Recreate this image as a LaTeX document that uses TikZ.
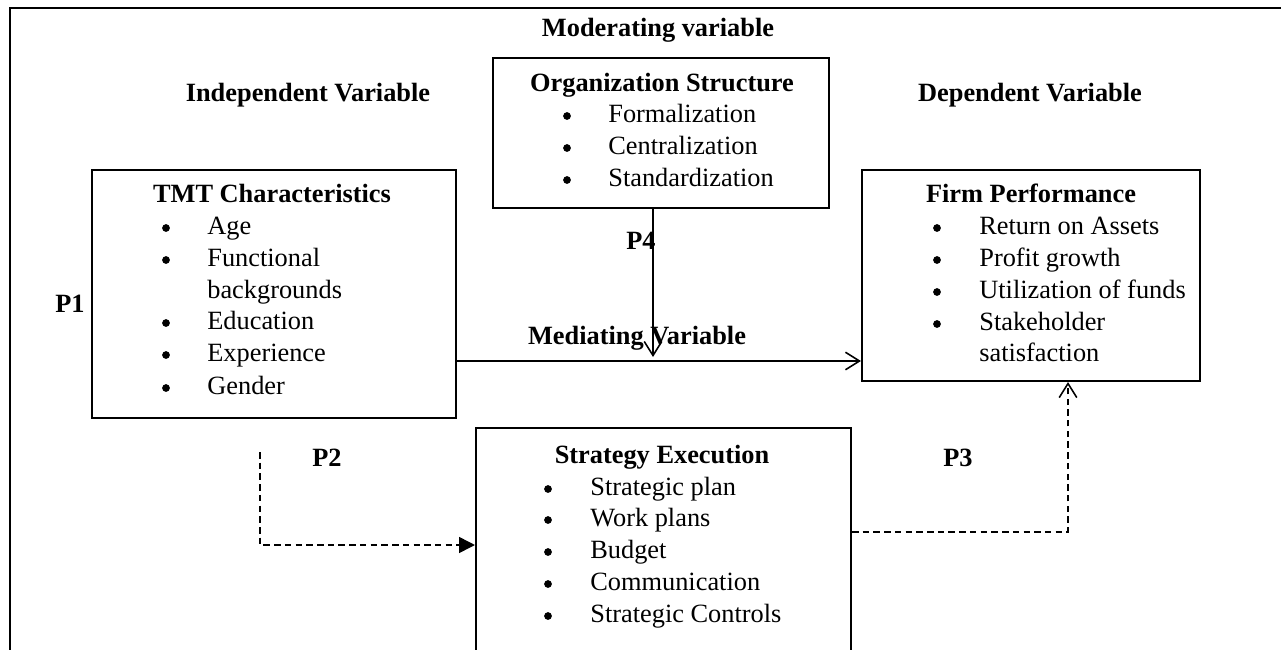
\documentclass[tikz,border=0pt]{standalone}
\usepackage{fontspec}
\setmainfont{Liberation Serif}
\usetikzlibrary{arrows.meta}
\begin{document}
\begin{tikzpicture}[x=0.02cm,y=-0.02cm,
  txt/.style={inner sep=0pt, font=\fontsize{15}{18}\selectfont},
  hd/.style={inner sep=0pt, anchor=mid, font=\fontsize{15}{18}\selectfont\bfseries},
  item/.style={txt, anchor=mid west},
  bul/.style={circle, fill=black, inner sep=0pt, minimum size=0.155cm},
  box/.style={draw, line width=1.2pt, inner sep=0pt},
  frame/.style={line width=1.6pt},
  conn/.style={line width=0.9pt},
  dsh/.style={conn, dash pattern=on 3.7pt off 2.4pt},
  openarrow/.style={-{Straight Barb[length=8pt,width=10pt]}},
  fillarrow/.style={-{Triangle[length=9pt,width=9pt]}},
]
\useasboundingbox (0,0) rectangle (1281,649);
% outer frame
\coordinate (fl) at (10,8);
\coordinate (fr) at (1290,8);
\coordinate (fb) at (10,660);
\draw[frame] (fb) -- (fl) -- (fr);

% headings
\node[hd] (modv) at (658,32) {Moderating variable};
\node[hd] (indv) at (308,97) {Independent Variable};
\node[hd] (depv) at (1030,97) {Dependent Variable};
\node[hd] (medv) at (637,340) {Mediating Variable};
\node[hd] (p1) at (70,308) {P1};
\node[hd] (p4) at (641,245) {P4};
\node[hd] (p2) at (327,462) {P2};
\node[hd] (p3) at (958,462) {P3};

% Organization Structure
\node[box, minimum width=6.72cm, minimum height=3.0cm] (org) at (661,133) {};
\node[hd] (orgt) at (662,87) {Organization Structure};
\node[bul] (ob1) at (567,116) {};
\node[item] (oi1) at (608,118) {Formalization};
\node[bul] (ob2) at (567,148) {};
\node[item] (oi2) at (608,150) {Centralization};
\node[bul] (ob3) at (567,180) {};
\node[item] (oi3) at (608,182) {Standardization};

% TMT Characteristics
\node[box, minimum width=7.28cm, minimum height=4.96cm] (tmt) at (274,294) {};
\node[hd] (tmtt) at (272,198) {TMT Characteristics};
\node[bul] (tb1) at (166,228) {};
\node[item] (ti1) at (207,230) {Age};
\node[bul] (tb2) at (166,260) {};
\node[item] (ti2) at (207,262) {Functional};
\node[item] (ti2b) at (207,294) {backgrounds};
\node[bul] (tb3) at (166,323) {};
\node[item] (ti3) at (207,325) {Education};
\node[bul] (tb4) at (166,355) {};
\node[item] (ti4) at (207,357) {Experience};
\node[bul] (tb5) at (166,388) {};
\node[item] (ti5) at (207,390) {Gender};

% Firm Performance
\node[box, minimum width=6.76cm, minimum height=4.22cm] (firm) at (1031,275.5) {};
\node[hd] (firmt) at (1031,198) {Firm Performance};
\node[bul] (fb1) at (937,228) {};
\node[item] (fi1) at (979,230) {Return on Assets};
\node[bul] (fb2) at (937,260) {};
\node[item] (fi2) at (979,262) {Profit growth};
\node[bul] (fb3) at (937,292) {};
\node[item] (fi3) at (979,294) {Utilization of funds};
\node[bul] (fb4) at (937,324) {};
\node[item] (fi4) at (979,326) {Stakeholder};
\node[item] (fi4b) at (979,357) {satisfaction};

% Strategy Execution
\node[box, minimum width=7.5cm, minimum height=5.04cm] (strat) at (663.5,554) {};
\node[hd] (stratt) at (662,459) {Strategy Execution};
\node[bul] (sb1) at (548,489) {};
\node[item] (si1) at (590,491) {Strategic plan};
\node[bul] (sb2) at (548,520) {};
\node[item] (si2) at (590,522) {Work plans};
\node[bul] (sb3) at (548,552) {};
\node[item] (si3) at (590,554) {Budget};
\node[bul] (sb4) at (548,584) {};
\node[item] (si4) at (590,586) {Communication};
\node[bul] (sb5) at (548,616) {};
\node[item] (si5) at (590,618) {Strategic Controls};

% connectors
\coordinate (my) at (0,361);
\draw[conn, openarrow] (tmt.east |- my) -- (firm.west |- my);

\coordinate (p4tip) at (653,357);
\draw[conn, openarrow] (org.south -| p4tip) -- (p4tip);

\coordinate (p2start) at (260,452);
\coordinate (p2y) at (0,545);
\draw[dsh, fillarrow] (p2start) |- (strat.west |- p2y);

\coordinate (p3y) at (0,532);
\coordinate (p3x) at (1068,0);
\draw[dsh, openarrow] (strat.east |- p3y) -| (firm.south -| p3x);
\end{tikzpicture}
\end{document}
